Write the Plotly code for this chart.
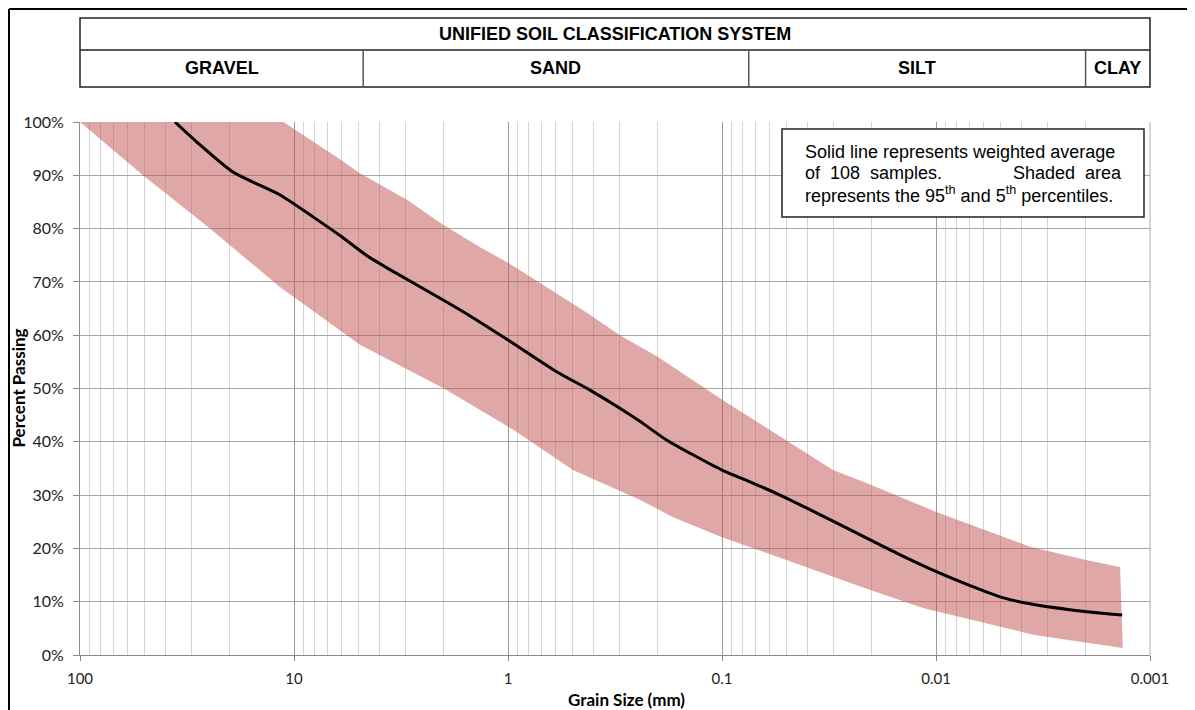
import math
import plotly.graph_objects as go

# ---- data (grain size in mm, percent passing) ----
avg_size = [36.0, 28.4, 19.3, 11.6, 8.15, 6.1, 4.56, 3.56, 2.01, 1.62, 1.0, 0.59, 0.414, 0.30,
            0.241, 0.181, 0.1, 0.074, 0.0536, 0.0376, 0.0203, 0.0147, 0.0099, 0.0067, 0.00502,
            0.00364, 0.00197, 0.00135]
avg_pass = [100, 96.2, 90.6, 86.3, 82.2, 78.7, 74.9, 72.3, 66.6, 64.4, 59.1, 53.1, 49.7, 46.3,
            43.8, 40.3, 34.7, 32.5, 30.0, 27.0, 21.6, 18.8, 15.6, 12.8, 10.9,
            9.6, 8.1, 7.5]

p95_size = [100, 11.2, 6.1, 4.92, 2.97, 2.01, 1.35, 1.0, 0.708, 0.428, 0.30, 0.199, 0.099,
            0.0519, 0.0303, 0.0213, 0.0155, 0.0099, 0.00622, 0.00364, 0.00197, 0.00138]
p95_pass = [100, 100, 93.0, 90.4, 85.4, 80.7, 76.5, 73.6, 69.8, 64.2, 60.0, 55.9, 47.8,
            40.7, 34.7, 32.3, 30.0, 26.8, 23.8, 20.3, 17.8, 16.5]

p5_size = [100, 50.8, 24.7, 11.6, 4.92, 2.01, 0.94, 0.497, 0.241, 0.170, 0.1, 0.0497,
           0.0203, 0.0115, 0.00352, 0.00134]
p5_pass = [100, 90, 80, 69.0, 58.2, 50.1, 42.2, 34.7, 29.1, 25.9, 22.1, 17.8,
           12.2, 8.8, 3.8, 1.3]

x_tickvals = [100, 10, 1, 0.1, 0.01, 0.001]
x_ticktext = ["100", "10", "1", "0.1", "0.01", "0.001"]
y_tickvals = [0, 10, 20, 30, 40, 50, 60, 70, 80, 90, 100]
y_ticktext = [f"{v}%" for v in y_tickvals]
minor_vals = [k * 10.0 ** e for e in range(-3, 2) for k in range(2, 10)]

uscs_title = "UNIFIED SOIL CLASSIFICATION SYSTEM"
uscs_names = ["GRAVEL", "SAND", "SILT", "CLAY"]
uscs_bounds = [100, 4.75, 0.075, 0.002, 0.001]

note_lines = ["Solid line represents weighted average",
              "represents the 95<sup>th</sup> and 5<sup>th</sup> percentiles."]
note_mid_left = "of  108  samples."
note_mid_right = "Shaded  area"

# ---- layout geometry (page has an 8px body margin) ----
OFF = 8
W, H = 1187, 702
PLOT_L, PLOT_R, PLOT_T, PLOT_B = 80, 1150, 122, 655
L, T = PLOT_L - OFF, PLOT_T - OFF
PW, PH = PLOT_R - PLOT_L, PLOT_B - PLOT_T
R, B = W - L - PW, H - T - PH


def px(xpix):
    return (xpix - PLOT_L) / PW


def py(ypix):
    return (PLOT_B - ypix) / PH


def size_to_paper(d):
    return (math.log10(100) - math.log10(d)) / 5.0


fig = go.Figure()

band_x = p95_size + p5_size[::-1]
band_y = p95_pass + p5_pass[::-1]
fig.add_trace(go.Scatter(x=band_x, y=band_y, mode="lines", fill="toself",
                         fillcolor="rgba(192,80,77,0.5)", line=dict(width=0),
                         hoverinfo="skip", showlegend=False))
fig.add_trace(go.Scatter(x=avg_size, y=avg_pass, mode="lines",
                         line=dict(color="black", width=3, shape="spline", smoothing=0.6),
                         showlegend=False))

shapes = []
annotations = []

# header table
yt, ym, yb = py(18), py(50), py(87)
line_k = dict(color="#222222", width=1.5)
shapes.append(dict(type="rect", xref="paper", yref="paper", x0=0, x1=1, y0=yb, y1=yt, line=line_k))
shapes.append(dict(type="line", xref="paper", yref="paper", x0=0, x1=1, y0=ym, y1=ym, line=line_k))
for b in uscs_bounds[1:-1]:
    xb = size_to_paper(b)
    shapes.append(dict(type="line", xref="paper", yref="paper", x0=xb, x1=xb, y0=yb, y1=ym,
                       line=dict(color="#555555", width=1.5)))
hfont = dict(family="Liberation Sans, Arial", size=18, color="black")
annotations.append(dict(xref="paper", yref="paper", x=0.5, y=(yt + ym) / 2, text=f"<b>{uscs_title}</b>",
                        xanchor="center", yanchor="middle", showarrow=False, font=hfont))
for i, name in enumerate(uscs_names):
    xc = (size_to_paper(uscs_bounds[i]) + size_to_paper(uscs_bounds[i + 1])) / 2
    annotations.append(dict(xref="paper", yref="paper", x=xc, y=(ym + yb) / 2, text=f"<b>{name}</b>",
                            xanchor="center", yanchor="middle", showarrow=False, font=hfont))

# outer frame (left and top)
shapes.append(dict(type="line", xref="paper", yref="paper", x0=px(9), x1=px(9), y0=py(712), y1=py(9),
                   line=dict(color="black", width=2)))
shapes.append(dict(type="line", xref="paper", yref="paper", x0=px(9), x1=px(1197), y0=py(9), y1=py(9),
                   line=dict(color="black", width=2)))

# note box
shapes.append(dict(type="rect", xref="paper", yref="paper", x0=px(782), x1=px(1144), y0=py(217), y1=py(129),
                   line=dict(color="#222222", width=1.5), fillcolor="white", layer="above"))
nfont = dict(family="Liberation Sans, Arial", size=18, color="black")
for txt, yy, xx, anc in [(note_lines[0], 152, 803, "left"), (note_mid_left, 173, 803, "left"),
                         (note_mid_right, 173, 1124, "right"), (note_lines[1], 194, 803, "left")]:
    annotations.append(dict(xref="paper", yref="paper", x=px(xx), y=py(yy), text=txt,
                            xanchor=anc, yanchor="middle", showarrow=False, font=nfont))

# axis titles
tfont = dict(family="Lato, Open Sans", size=17, color="black")
annotations.append(dict(xref="paper", yref="paper", x=px(626), y=py(699), text="<b>Grain Size (mm)</b>",
                        xanchor="center", yanchor="middle", showarrow=False, font=tfont))
annotations.append(dict(xref="paper", yref="paper", x=px(18), y=0.5, text="<b>Percent Passing</b>",
                        xanchor="center", yanchor="middle", textangle=-90, showarrow=False, font=tfont))

fig.update_layout(
    width=W, height=H,
    margin=dict(l=L, r=R, t=T, b=B),
    paper_bgcolor="white", plot_bgcolor="white",
    shapes=shapes, annotations=annotations,
    xaxis=dict(type="log", range=[2, -3], tickmode="array", tickvals=x_tickvals, ticktext=x_ticktext,
               showgrid=True, gridcolor="#9a9a9a", gridwidth=1,
               minor=dict(tickmode="array", tickvals=minor_vals, showgrid=True, gridcolor="#d4d4d4",
                          gridwidth=1, ticks=""),
               showline=True, linecolor="#8a8a8a", linewidth=1,
               ticks="outside", ticklen=5, tickcolor="#8a8a8a", ticklabelstandoff=5,
               tickfont=dict(family="Lato, Open Sans", size=15, color="#222222"),
               zeroline=False),
    yaxis=dict(range=[0, 100], tickmode="array", tickvals=y_tickvals, ticktext=y_ticktext,
               showgrid=True, gridcolor="#a8a8a8", gridwidth=1,
               showline=True, linecolor="#8a8a8a", linewidth=1,
               ticks="outside", ticklen=6, tickcolor="#8a8a8a", ticklabelstandoff=6,
               tickfont=dict(family="Lato, Open Sans", size=16, color="#222222"),
               zeroline=False),
)
fig.add_shape(type="line", xref="paper", yref="paper", x0=1, x1=1, y0=0, y1=1,
              line=dict(color="#b0b0b0", width=1))

fig.write_html("out.html")
